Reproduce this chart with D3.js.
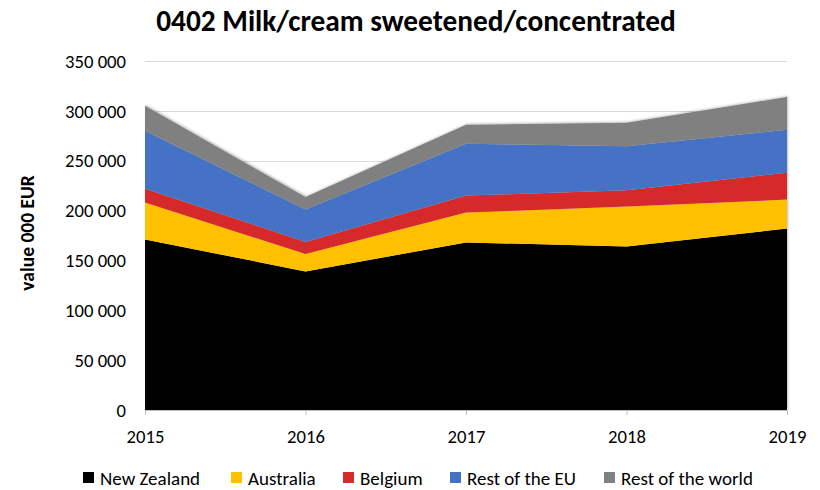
<!DOCTYPE html>
<html>
<head>
<meta charset="utf-8">
<script src="https://cdn.jsdelivr.net/npm/d3@7"></script>
<style>
  html, body { margin: 0; padding: 0; background: #fff; }
  svg { display: block; }
  text { font-family: Carlito, Calibri, Lato, sans-serif; fill: #000; }
</style>
</head>
<body>
<svg id="chart" width="820" height="490"></svg>
<script>
// Data (value 000 EUR)
const years = [2015, 2016, 2017, 2018, 2019];
const newZealand = [171000, 139000, 168000, 164000, 182000];
const australia  = [37000, 17500, 30000, 40000, 29000];
const belgium    = [14000, 12000, 17000, 16500, 27000];
const restEU     = [58000, 32500, 52000, 44000, 43000];
const restWorld  = [25000, 12500, 19000, 23500, 33000];
const seriesNames = ["New Zealand", "Australia", "Belgium", "Rest of the EU", "Rest of the world"];
const seriesColors = ["#000000", "#ffc000", "#d62b2b", "#4472c4", "#808080"];
const yTicks = [0, 50000, 100000, 150000, 200000, 250000, 300000, 350000];
const title = "0402 Milk/cream sweetened/concentrated";
const yLabel = "value 000 EUR";

const seriesValues = [newZealand, australia, belgium, restEU, restWorld];
const table = years.map((yr, i) => {
  const row = { year: yr };
  seriesNames.forEach((n, j) => row[n] = seriesValues[j][i]);
  return row;
});

const FONT = "Carlito, Calibri, Lato, sans-serif";
const svg = d3.select("#chart");
const mLeft = 145, mRight = 787, mTop = 61, mBottom = 410;

const x = d3.scaleLinear().domain([2015, 2019]).range([mLeft, mRight]);
const y = d3.scaleLinear().domain([0, 350000]).range([mBottom, mTop]);

const locale = d3.formatLocale({ decimal: ",", thousands: "\u00a0", grouping: [3], currency: ["", "€"] });
const fmt = locale.format(",d");

// defs: shadow
const defs = svg.append("defs");
const f = defs.append("filter").attr("id", "shadow").attr("x", "-5%").attr("y", "-5%").attr("width", "110%").attr("height", "110%");
f.append("feDropShadow").attr("dx", 1).attr("dy", -1).attr("stdDeviation", 1.2).attr("flood-color", "#000").attr("flood-opacity", 0.25);

// gridlines
svg.append("g").selectAll("line").data(yTicks.filter(d => d > 0)).join("line")
  .attr("x1", mLeft).attr("x2", mRight)
  .attr("y1", d => Math.round(y(d)) + 0.5).attr("y2", d => Math.round(y(d)) + 0.5)
  .attr("stroke", "#d9d9d9").attr("stroke-width", 1);

// areas
const stacked = d3.stack().keys(seriesNames)(table);
const area = d3.area()
  .x(d => x(d.data.year))
  .y0(d => y(d[0]))
  .y1(d => y(d[1]));

svg.append("g").attr("filter", "url(#shadow)")
  .selectAll("path").data(stacked).join("path")
  .attr("d", area)
  .attr("fill", (d, i) => seriesColors[i]);

// x axis
const xAxis = d3.axisBottom(x).tickValues(years).tickFormat(d3.format("d")).tickSize(5);
const gx = svg.append("g").attr("transform", `translate(0,${mBottom})`).call(xAxis);
gx.select(".domain").attr("stroke", "#bfbfbf");
gx.selectAll(".tick line").attr("stroke", "#bfbfbf");
gx.selectAll(".tick text").attr("dy", 0).attr("y", 33).style("font-size", "18.67px").style("font-family", FONT).attr("fill", "#000");

// y axis
const yAxis = d3.axisLeft(y).tickValues(yTicks).tickFormat(fmt).tickSize(0).tickPadding(19);
const gy = svg.append("g").attr("transform", `translate(${mLeft},0)`).call(yAxis);
gy.select(".domain").remove();
gy.selectAll(".tick text").attr("dy", "0.33em").style("font-size", "18.67px").style("font-family", FONT).attr("fill", "#000");

// y label
svg.append("text")
  .attr("transform", `translate(34,233) rotate(-90)`)
  .attr("text-anchor", "middle")
  .style("font-size", "19.5px").style("font-weight", "bold")
  .text(yLabel);

// title
svg.append("text")
  .attr("x", 416).attr("y", 31)
  .attr("text-anchor", "middle")
  .style("font-size", "29.3px").style("font-weight", "bold")
  .text(title);

// legend
const legendX = [83, 231, 343, 450, 604];
const lg = svg.append("g");
seriesNames.forEach((n, i) => {
  lg.append("rect").attr("x", legendX[i]).attr("y", 472).attr("width", 11).attr("height", 11).attr("fill", seriesColors[i]);
  lg.append("text").attr("x", legendX[i] + 17).attr("y", 485).style("font-size", "19px").text(n);
});
</script>
</body>
</html>
